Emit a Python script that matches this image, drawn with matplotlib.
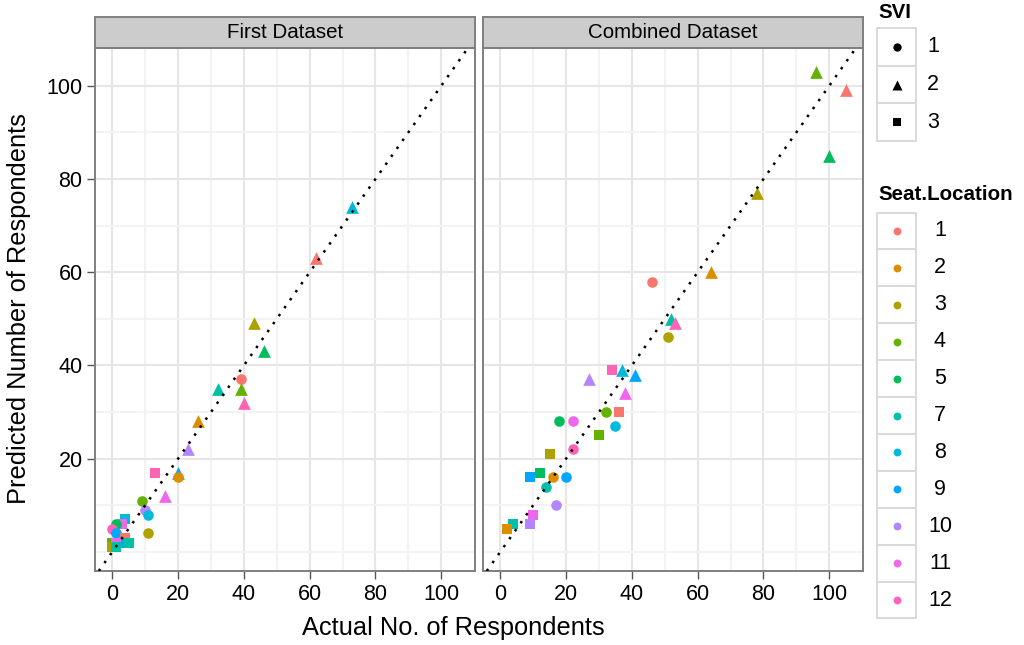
import matplotlib
matplotlib.use('Agg')
import matplotlib.pyplot as plt
from matplotlib.patches import Rectangle

plt.rcParams['font.family'] = ['Liberation Sans', 'DejaVu Sans']

panels = ['First Dataset', 'Combined Dataset']

# First Dataset
first_actual = [39, 32, 39, 40, 26, 23, 20, 20, 13, 16, 9, 10, 11, 11, 4, 3, 1, 0, 1,
                4, 4, 5, 0, 1, 0, 1, 73, 62, 43, 46]
first_pred = [37, 35, 35, 32, 28, 22, 17, 16, 17, 12, 11, 9, 8, 4, 7, 6, 6, 5, 4,
              3, 2, 2, 2, 2, 1, 1, 74, 63, 49, 43]
first_svi = [1, 2, 2, 2, 2, 2, 2, 1, 3, 2, 1, 1, 1, 1, 3, 3, 1, 1, 1,
             3, 3, 3, 3, 3, 3, 3, 2, 2, 2, 2]
first_seat = [1, 7, 4, 12, 2, 10, 9, 2, 12, 11, 4, 10, 8, 3, 8, 11, 5, 12, 9,
              1, 9, 7, 4, 11, 3, 7, 8, 1, 3, 5]

# Combined Dataset
comb_actual = [51, 34, 37, 41, 27, 38, 32, 36, 18, 22, 35, 30, 22, 15, 12, 9, 16, 20,
               14, 17, 10, 9, 4, 2, 96, 105, 100, 78, 64, 46, 52, 53]
comb_pred = [46, 39, 39, 38, 37, 34, 30, 30, 28, 28, 27, 25, 22, 21, 17, 16, 16, 16,
             14, 10, 8, 6, 6, 5, 103, 99, 85, 77, 60, 58, 50, 49]
comb_svi = [1, 3, 2, 2, 2, 2, 1, 3, 1, 1, 1, 3, 1, 3, 3, 3, 1, 1,
            1, 1, 3, 3, 3, 3, 2, 2, 2, 2, 2, 1, 2, 2]
comb_seat = [3, 12, 8, 9, 10, 11, 4, 1, 5, 11, 8, 4, 12, 3, 5, 9, 2, 9,
             7, 10, 11, 10, 7, 2, 4, 1, 5, 3, 2, 1, 7, 12]

svi_levels = [1, 2, 3]
seat_levels = [1, 2, 3, 4, 5, 7, 8, 9, 10, 11, 12]
seat_colors = ['#F8766D', '#DB8E00', '#AEA200', '#64B200', '#00BD5C', '#00C1A7',
               '#00BADE', '#00A6FF', '#B385FF', '#EF67EB', '#FF63B6']
svi_markers = {1: 'o', 2: '^', 3: 's'}
svi_sizes = {1: 58, 2: 84, 3: 60}
svi_key_sizes = {1: 36, 2: 52, 3: 36}

x_ticks = [0, 20, 40, 60, 80, 100]
y_ticks = [20, 40, 60, 80, 100]

W, H = 1024, 645
fig = plt.figure(figsize=(W / 100, H / 100), dpi=100)

color_of = dict(zip(seat_levels, seat_colors))
data = [(first_actual, first_pred, first_svi, first_seat),
        (comb_actual, comb_pred, comb_svi, comb_seat)]
lefts = [95, 483]
top, bottom = 48, 571
pw = 380
for i, (title, (xs, ys, sv, st)) in enumerate(zip(panels, data)):
    ax = fig.add_axes([lefts[i] / W, 1 - bottom / H, pw / W, (bottom - top) / H])
    ax.set_xlim(-5.25, 110.25)
    ax.set_ylim(-4.1, 108.1)
    ax.set_xticks(x_ticks)
    ax.set_yticks(y_ticks)
    ax.set_xticks([10, 30, 50, 70, 90], minor=True)
    ax.set_yticks([0, 10, 30, 50, 70, 90], minor=True)
    ax.grid(True, which='major', color='#E6E6E6', lw=1.5, zorder=0)
    ax.grid(True, which='minor', color='#F3F3F3', lw=1.5, zorder=0)
    ax.set_axisbelow(True)
    for sp in ax.spines.values():
        sp.set_color('#7F7F7F')
        sp.set_linewidth(1.4)
    ax.tick_params(which='major', length=6, width=1, color='#555555',
                   labelsize=15.5, labelcolor='black', pad=3)
    ax.tick_params(which='minor', length=0)
    if i == 1:
        ax.tick_params(axis='y', length=0, labelleft=False)
    for x, y, s, c in zip(xs, ys, sv, st):
        ax.scatter(x, y, marker=svi_markers[s], s=svi_sizes[s], c=color_of[c],
                   linewidths=0, zorder=3)
    ax.axline((0, 0), slope=1, color='black', lw=1.8, linestyle=(0, (1, 2.9)), zorder=4)
    # facet strip
    sh = 31 / (bottom - top)
    ax.add_patch(Rectangle((0, 1), 1, sh, transform=ax.transAxes, facecolor='#CCCCCC',
                           edgecolor='#7F7F7F', lw=1.4, clip_on=False))
    ax.text(0.5, 1 + sh / 2, title, transform=ax.transAxes, ha='center', va='center',
            fontsize=14.8)

fig.text(19 / W, 1 - 309 / H, 'Predicted Number of Respondents', rotation=90,
         ha='center', va='center', fontsize=18.3)
fig.text(453 / W, 1 - 628 / H, 'Actual No. of Respondents', ha='center', va='center',
         fontsize=18.3)

# legends drawn in pixel space
lg = fig.add_axes([0, 0, 1, 1])
lg.set_xlim(0, W)
lg.set_ylim(H, 0)
lg.axis('off')
kx0, kw, kh = 877, 39, 37.5

lg.text(878, 13, 'SVI', fontsize=14.8, fontweight='bold', ha='left', va='center')
for j, lev in enumerate(svi_levels):
    yc = 47 + j * kh
    lg.add_patch(Rectangle((kx0, yc - kh / 2), kw, kh, facecolor='white',
                           edgecolor='#D9D9D9', lw=1.4))
    lg.scatter(kx0 + kw / 2, yc, marker=svi_markers[lev], s=svi_key_sizes[lev], c='black',
               linewidths=0)
    lg.text(927, yc, str(lev), fontsize=15.5, ha='left', va='center')

lg.text(878, 195, 'Seat.Location', fontsize=14.8, fontweight='bold', ha='left', va='center')
for j, (lev, col) in enumerate(zip(seat_levels, seat_colors)):
    yc = 231 + j * 36.9
    lg.add_patch(Rectangle((kx0, yc - 36.9 / 2), kw, 36.9, facecolor='white',
                           edgecolor='#D9D9D9', lw=1.4))
    lg.scatter(kx0 + kw / 2, yc, marker='o', s=32, c=col, linewidths=0)
    lg.text(940, yc, str(lev), fontsize=15.5, ha='center', va='center')

fig.savefig('out.png', dpi=100)
